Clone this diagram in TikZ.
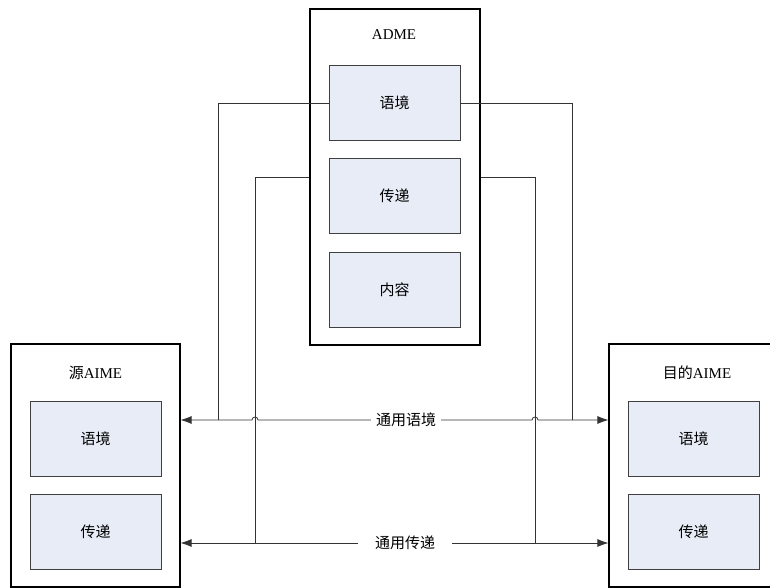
\documentclass[tikz,border=0pt]{standalone}
\usepackage{fontspec}
\setmainfont{Liberation Serif}
\newfontfamily\cjk{Noto Sans CJK SC}
\usetikzlibrary{arrows.meta, positioning, calc}
\definecolor{boxfill}{RGB}{231,236,247}

\begin{document}
\begin{tikzpicture}[x=1pt, y=1pt,
    outer/.style={draw=black, line width=1.1pt, minimum width=169pt, inner sep=0pt},
    part/.style={draw=black!75, fill=boxfill, line width=0.9pt, minimum width=131pt, minimum height=75pt, font=\cjk\fontsize{15}{18}\selectfont},
    title/.style={font=\fontsize{15}{18}\selectfont},
    wire/.style={draw=black!80, line width=0.8pt},
    bus/.style={wire, {Latex[length=11pt,width=8pt]}-{Latex[length=11pt,width=8pt]}},
    buslabel/.style={fill=white, font=\cjk\fontsize{15}{18}\selectfont}]
\useasboundingbox (0,0) rectangle (770,588);

% ADME in the middle
\node[outer, minimum width=170pt, minimum height=336pt] (adme) at (395,411) {};
\node[title] (admet) at (394,553) {ADME};
\node[part] (adctx) at (394.5,485) {语境};
\node[part] (adtra) at (394.5,392.5) {传递};
\node[part] (adcon) at (394.5,298.5) {内容};

% source and destination AIME
\node[outer, minimum height=243pt] (src) at (95.5,122.5) {};
\node[title] (srct) at (95.5,215) {{\cjk 源}AIME};
\node[part] (srcctx) at (95.5,149.5) {语境};
\node[part] (srctra) at (95.5,56.5) {传递};

\node[outer, minimum height=243pt] (dst) at (693.5,122.5) {};
\node[title] (dstt) at (697,215) {{\cjk 目的}AIME};
\node[part] (dstctx) at (693.5,149.5) {语境};
\node[part] (dsttra) at (693.5,56.5) {传递};

% junction points
\coordinate (cl) at (218,168);
\coordinate (cr) at (572,168);
\coordinate (tl) at (255,45);
\coordinate (tr) at (535,45);

% common context
\draw[bus] (src.east |- cl) -- (252,168) arc (180:0:3) -- (532,168) arc (180:0:3) -- (dst.west |- cl);
\node[buslabel, inner xsep=5pt] (ctxlbl) at (406,168) {通用语境};
\draw[wire] (adctx.west) -| (cl);
\draw[wire] (adctx.east) -| (cr);

% common transfer
\draw[bus] (src.east |- tl) -- (dst.west |- tr);
\node[buslabel, inner xsep=17pt] (tralbl) at (405,45) {通用传递};
\draw[wire] (adme.west) -| (tl);
\draw[wire] (adme.east) -| (tr);
\end{tikzpicture}
\end{document}
